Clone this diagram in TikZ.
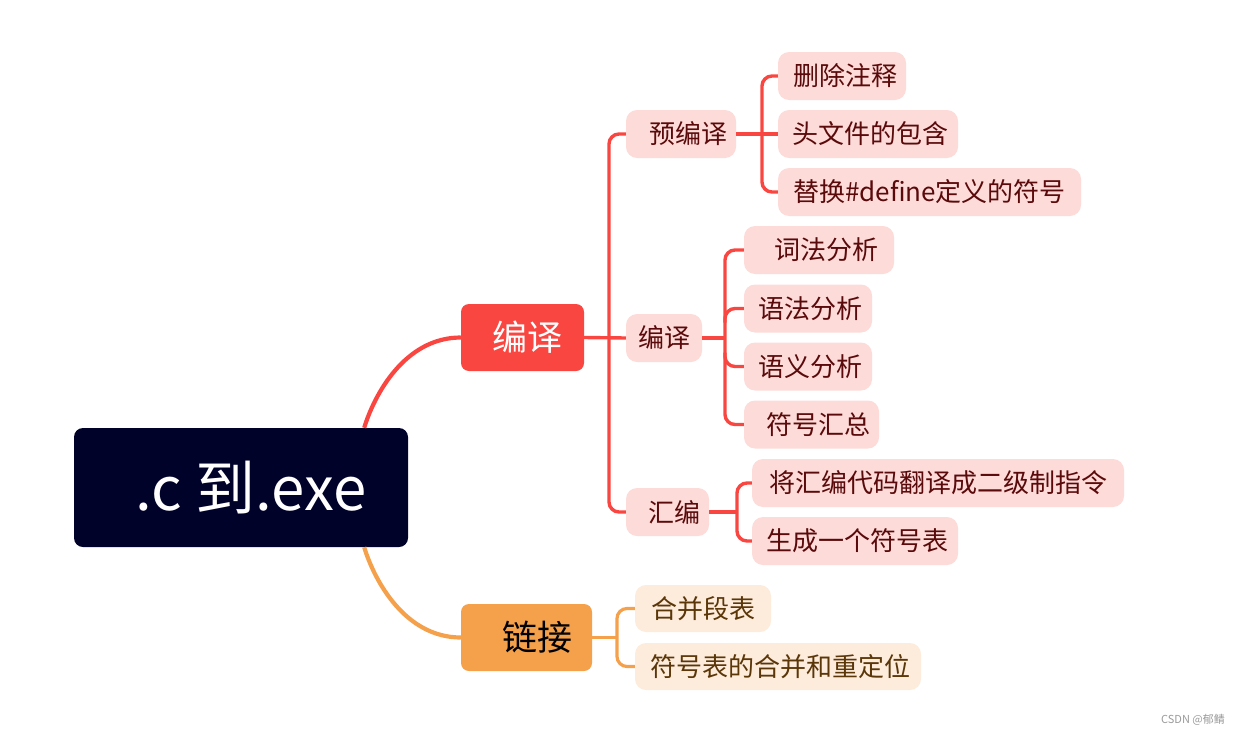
\documentclass[tikz,border=0pt]{standalone}
\usepackage{fontspec}
\setmainfont{Noto Sans CJK SC}
\usetikzlibrary{calc}
\definecolor{rootbg}{HTML}{00022A}
\definecolor{redc}{HTML}{FA4640}
\definecolor{orc}{HTML}{F5A04B}
\definecolor{pinkbg}{HTML}{FDDBD9}
\definecolor{peachbg}{HTML}{FDEBDB}
\definecolor{redtxt}{HTML}{5A0A0A}
\definecolor{ortxt}{HTML}{5A3608}
\definecolor{wm}{HTML}{9A9A9A}
\tikzset{
  rootbox/.style={rectangle, rounded corners=9pt, fill=rootbg, text=white, inner sep=0pt,
    font=\fontsize{60}{64}\selectfont},
  mainred/.style={rectangle, rounded corners=8pt, fill=redc, text=white, inner sep=0pt,
    font=\fontsize{35}{40}\selectfont},
  mainor/.style={rectangle, rounded corners=8pt, fill=orc, text=black, inner sep=0pt,
    font=\fontsize{35}{40}\selectfont},
  pinkbox/.style={rectangle, rounded corners=11pt, fill=pinkbg, text=redtxt, inner sep=0pt,
    minimum height=48pt, font=\fontsize{26}{30}\selectfont},
  peachbox/.style={rectangle, rounded corners=11pt, fill=peachbg, text=ortxt, inner sep=0pt,
    minimum height=47pt, font=\fontsize{26}{30}\selectfont},
  redmain/.style={draw=redc, line width=4.2pt},
  ormain/.style={draw=orc, line width=4.2pt},
  redline/.style={draw=redc, line width=3.4pt, rounded corners=10pt},
  orline/.style={draw=orc, line width=3.2pt, rounded corners=10pt},
}
\begin{document}
\begin{tikzpicture}[x=1pt, y=-1pt]
\useasboundingbox (0,0) rectangle (1242,736);
% root and main branches
\node[rootbox, minimum width=334pt, minimum height=119pt] (root) at (241,487.5) {\hspace*{20pt}.c 到.exe};
\node[mainred, minimum width=123pt, minimum height=67pt] (bianyi) at (522.5,337.5) {\hspace*{9pt}编译};
\node[mainor, minimum width=131pt, minimum height=67pt] (lianjie) at (526.5,637.5) {\hspace*{22pt}链接};
% level 2
\node[pinkbox, minimum width=110pt] (yubianyi) at (681,134) {\hspace*{14pt}预编译};
\node[pinkbox, minimum width=76pt] (bianyi2) at (664,338) {编译};
\node[pinkbox, minimum width=83pt] (huibian) at (667.5,512) {\hspace*{13pt}汇编};
% level 3 under 预编译
\node[pinkbox, minimum width=128pt] (a1) at (842,76) {\hspace*{7pt}删除注释};
\node[pinkbox, minimum width=180pt] (a2) at (868,134) {\hspace*{4pt}头文件的包含};
\node[pinkbox, minimum width=303pt] (a3) at (929.5,192) {替换\#define定义的符号};
% level 3 under 编译
\node[pinkbox, minimum width=150pt] (b1) at (819,250) {\hspace*{14pt}词法分析};
\node[pinkbox, minimum width=128pt] (b2) at (808,308.5) {\hspace*{4pt}语法分析};
\node[pinkbox, minimum width=128pt] (b3) at (808,366.5) {\hspace*{4pt}语义分析};
\node[pinkbox, minimum width=135pt] (b4) at (811.5,424.5) {\hspace*{14pt}符号汇总};
% level 3 under 汇编
\node[pinkbox, minimum width=372pt] (c1) at (938,483) {将汇编代码翻译成二级制指令};
\node[pinkbox, minimum width=206pt] (c2) at (855,541) {\hspace*{4pt}生成一个符号表};
% under 链接
\node[peachbox, minimum width=136pt] (d1) at (703,608.5) {合并段表};
\node[peachbox, minimum width=286pt] (d2) at (778,666.5) {\hspace*{4pt}符号表的合并和重定位};
% watermark
\node[text=wm, inner sep=0pt, font=\fontsize{11}{13}\selectfont] (wmk) at (1193,720) {CSDN @郁鲭};

% trunk x-positions
\coordinate (t1) at (609,0);
\coordinate (t2) at (762,0);
\coordinate (t3) at (725,0);
\coordinate (t4) at (737,0);
\coordinate (t5) at (617,0);

% root curves
\draw[redmain] ($(root.north east)+(-44,0)$) .. controls ($(root.north east)+(-34,-33)$) and ($(bianyi.west)+(-56,0)$) .. (bianyi.west);
\draw[ormain] ($(root.south east)+(-44,0)$) .. controls ($(root.south east)+(-34,33)$) and ($(lianjie.west)+(-56,0)$) .. (lianjie.west);

% 编译 main group
\draw[redline] (bianyi.east) -- (bianyi2.west);
\draw[redline] (yubianyi.west) -- (yubianyi.west -| t1) -- (huibian.west -| t1) -- (huibian.west);

% 预编译 group
\draw[redline] (yubianyi.east) -- (a2.west);
\draw[redline] (a1.west) -- (a1.west -| t2) -- (a3.west -| t2) -- (a3.west);

% 编译 sub group
\draw[redline] (bianyi2.east) -- (bianyi2.east -| t3);
\draw[redline] (b1.west) -- (b1.west -| t3) -- (b4.west -| t3) -- (b4.west);
\draw[redline] ($(b2.west -| t3)+(0,14)$) -- (b2.west -| t3) -- (b2.west);
\draw[redline] ($(b3.west -| t3)+(0,-14)$) -- (b3.west -| t3) -- (b3.west);

% 汇编 group
\draw[redline] (huibian.east) -- (huibian.east -| t4);
\draw[redline] (c1.west) -- (c1.west -| t4) -- (c2.west -| t4) -- (c2.west);

% 链接 group
\draw[orline] (lianjie.east) -- (lianjie.east -| t5);
\draw[orline] (d1.west) -- (d1.west -| t5) -- (d2.west -| t5) -- (d2.west);
\end{tikzpicture}
\end{document}
